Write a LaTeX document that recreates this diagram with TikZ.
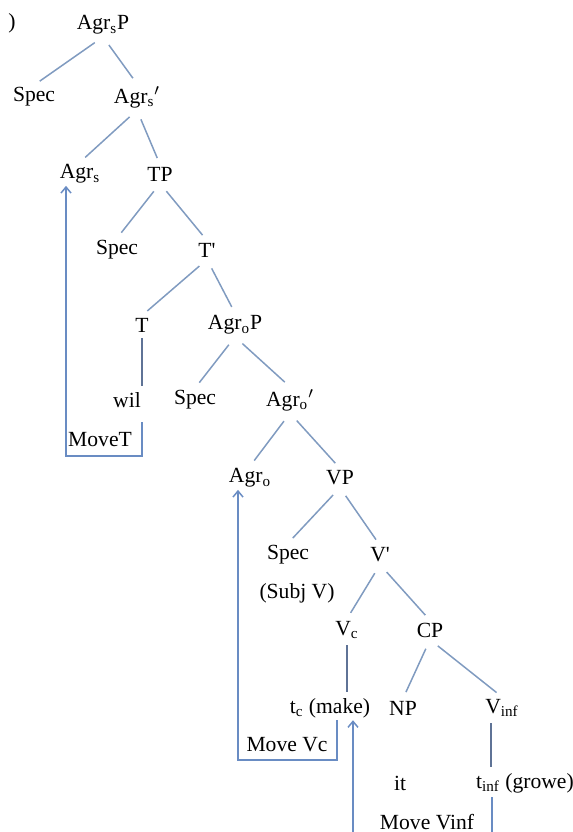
\documentclass[tikz,border=0pt]{standalone}
\usepackage{fontspec}
\setmainfont{Liberation Serif}
\usetikzlibrary{arrows.meta}
\definecolor{branchblue}{RGB}{128,155,192}
\definecolor{stemblue}{RGB}{95,115,150}
\definecolor{moveblue}{RGB}{105,140,195}
\tikzset{
	lbl/.style={inner sep=1pt, font=\fontsize{10.8}{13}\selectfont},
	branch/.style={draw=branchblue, line width=0.75pt, shorten >=3.5pt, shorten <=5pt},
	stem/.style={draw=stemblue, line width=0.6pt, shorten >=2pt, shorten <=2pt},
	movepath/.style={draw=moveblue, line width=0.75pt, -{Straight Barb[length=3pt,width=5pt]}}
}
\begin{document}
\begin{tikzpicture}[x=0.5pt,y=-0.5pt]
		\useasboundingbox (0,0) rectangle (573,832);
		\clip (0,0) rectangle (573,832);
		% tree labels
		\node[lbl] (paren) at (12,23) {)};
		\node[lbl] (AgrsP) at (103,25) {Agr\textsubscript{s}P};
		\node[lbl] (specA) at (34,97) {Spec};
		\node[lbl] (AgrsBar) at (137,97) {Agr\textsubscript{s}$'$};
		\node[lbl] (Agrs) at (80,174) {Agr\textsubscript{s}};
		\node[lbl] (TP) at (160,174) {TP};
		\node[lbl] (specT) at (117,250) {Spec};
		\node[lbl] (TBar) at (207,250) {T\textquotesingle};
		\node[lbl] (T) at (142,325) {T};
		\node[lbl] (AgroP) at (235,325) {Agr\textsubscript{o}P};
		\node[lbl] (wil) at (127,400) {wil};
		\node[lbl] (specO) at (195,400) {Spec};
		\node[lbl] (AgroBar) at (290,400) {Agr\textsubscript{o}$'$};
		\node[lbl] (Agro) at (250,478) {Agr\textsubscript{o}};
		\node[lbl] (VP) at (340,478) {VP};
		\node[lbl] (specV) at (288,555) {Spec};
		\node[lbl] (VBar) at (380,555) {V\textquotesingle};
		\node[lbl] (subjV) at (297,593) {(Subj V)};
		\node[lbl] (Vc) at (347,630) {V\textsubscript{c}};
		\node[lbl] (CP) at (430,630) {CP};
		\node[lbl] (tc) at (330,708) {t\textsubscript{c} (make)};
		\node[lbl] (NP) at (403,708) {NP};
		\node[lbl] (Vinf) at (502,708) {V\textsubscript{inf}};
		\node[lbl] (it) at (400,783) {it};
		\node[lbl] (tinf) at (525,783) {t\textsubscript{inf} (growe)};
		\node[lbl] (moveT) at (100,440) {MoveT};
		\node[lbl] (moveVc) at (287,745) {Move Vc};
		\node[lbl] (moveVinf) at (427,822) {Move Vinf};
		% branches
		\draw[branch] (AgrsP.south) -- (specA.north);
		\draw[branch] (AgrsP.south) -- (AgrsBar.north);
		\draw[branch] (AgrsBar.south) -- (Agrs.north);
		\draw[branch] (AgrsBar.south) -- (TP.north);
		\draw[branch] (TP.south) -- (specT.north);
		\draw[branch] (TP.south) -- (TBar.north);
		\draw[branch] (TBar.south) -- (T.north);
		\draw[branch] (TBar.south) -- (AgroP.north);
		\draw[branch] (AgroP.south) -- (specO.north);
		\draw[branch] (AgroP.south) -- (AgroBar.north);
		\draw[branch] (AgroBar.south) -- (Agro.north);
		\draw[branch] (AgroBar.south) -- (VP.north);
		\draw[branch] (VP.south) -- (specV.north);
		\draw[branch] (VP.south) -- (VBar.north);
		\draw[branch] (VBar.south) -- (Vc.north);
		\draw[branch] (VBar.south) -- (CP.north);
		\draw[branch] (CP.south) -- (NP.north);
		\draw[branch] (CP.south) -- (Vinf.north);
		% heads down to their words
		\draw[stem] (T.south) -- (T.south |- wil.north);
		\draw[stem] (Vc.south) -- (Vc.south |- tc.north);
		\draw[stem] ([xshift=4pt]Vinf.south west) -- ([xshift=4pt]Vinf.south west |- tinf.north);
		% movements
		\coordinate (mtR) at (142,456);
		\coordinate (mtL) at (66,456);
		\coordinate (mvR) at (337,760);
		\coordinate (mvL) at (238,760);
		\coordinate (miR) at (492,845);
		\coordinate (miL) at (353,845);
		\draw[movepath, shorten <=6pt] (T.south |- wil.south) -- (mtR) -- (mtL) -- (mtL |- Agrs.south);
		\draw[movepath] (mvR |- tc.south) -- (mvR) -- (mvL) -- (mvL |- Agro.south);
		\draw[movepath, shorten <=1pt] (miR |- tinf.south) -- (miR) -- (miL) -- (miL |- tc.south);
	\end{tikzpicture}
\end{document}
